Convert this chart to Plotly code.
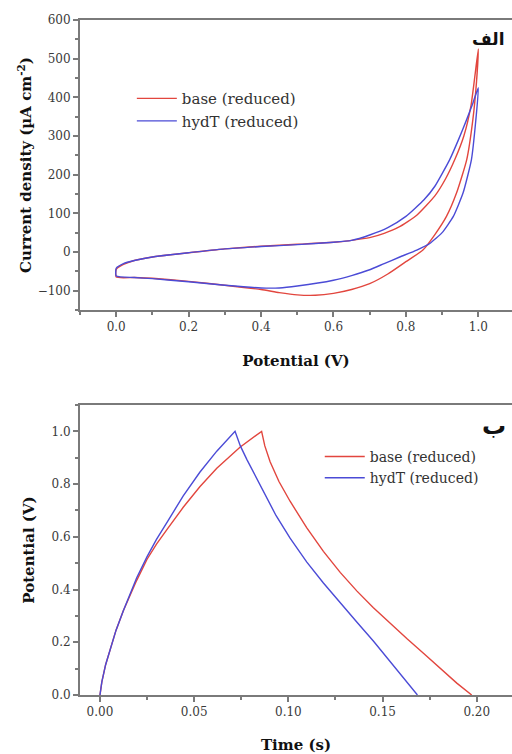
import plotly.graph_objects as go
from plotly.subplots import make_subplots

# Cyclic voltammetry (potential in V, current density in µA cm^-2)
cv_base_v = [0.0, 0.02, 0.05, 0.1, 0.15, 0.2, 0.3, 0.4, 0.5, 0.6, 0.65, 0.7, 0.74, 0.78,
             0.83, 0.88, 0.91, 0.935, 0.96, 0.98, 1.0,
             0.995, 0.985, 0.968, 0.94, 0.912, 0.88, 0.847, 0.8, 0.75, 0.7, 0.65, 0.6,
             0.55, 0.5, 0.45, 0.4, 0.3, 0.2, 0.1, 0.05, 0.0, 0.0]
cv_base_j = [-45, -32, -22, -13, -7, -2, 8, 15, 20, 25, 30, 37, 48, 64,
             95, 145, 190, 239, 300, 380, 525,
             440, 343, 239, 153, 92, 45, 5, -25, -57, -82, -97, -107,
             -112, -111, -105, -97, -86, -76, -68, -66, -65, -45]

cv_hydt_v = [0.0, 0.02, 0.05, 0.1, 0.15, 0.2, 0.3, 0.4, 0.5, 0.6, 0.65, 0.7, 0.75, 0.8,
             0.85, 0.88, 0.921, 0.945, 0.968, 0.985, 1.0,
             0.993, 0.981, 0.958, 0.931, 0.9, 0.866, 0.83, 0.783, 0.74, 0.7, 0.65, 0.6,
             0.5, 0.45, 0.4, 0.3, 0.2, 0.1, 0.05, 0.0, 0.0]
cv_hydt_j = [-42, -30, -22, -13, -7, -2, 8, 14, 19, 25, 30, 44, 63, 92,
             135, 170, 239, 290, 343, 385, 425,
             340, 239, 153, 92, 50, 22, 5, -13, -30, -46, -61, -73,
             -88, -93, -93, -86, -77, -69, -66, -62, -42]

# Galvanostatic charge/discharge (time in s, potential in V)
gcd_base_t = [0.0, 0.001, 0.003, 0.0053, 0.0085, 0.0124, 0.016, 0.0195, 0.025, 0.030,
              0.036, 0.0442, 0.053, 0.062, 0.0743, 0.0858,
              0.0875, 0.0903, 0.095, 0.1009, 0.1097, 0.1186, 0.1275, 0.1363, 0.145,
              0.154, 0.163, 0.1717, 0.1806, 0.1894, 0.1973]
gcd_base_v = [0.0, 0.05, 0.115, 0.17, 0.245, 0.32, 0.38, 0.435, 0.515, 0.572,
              0.632, 0.712, 0.79, 0.86, 0.94, 1.0,
              0.945, 0.885, 0.81, 0.735, 0.635, 0.545, 0.465, 0.395, 0.332,
              0.272, 0.213, 0.158, 0.10, 0.045, 0.0]

gcd_hydt_t = [0.0, 0.001, 0.003, 0.0053, 0.0085, 0.0124, 0.016, 0.0195, 0.025, 0.030,
              0.036, 0.0442, 0.053, 0.062, 0.0717,
              0.0745, 0.078, 0.0832, 0.0885, 0.0935, 0.1009, 0.1097, 0.1186, 0.1274,
              0.1363, 0.1451, 0.154, 0.1628, 0.1685]
gcd_hydt_v = [0.0, 0.05, 0.115, 0.17, 0.245, 0.32, 0.385, 0.445, 0.525, 0.59,
              0.66, 0.755, 0.845, 0.925, 1.0,
              0.945, 0.893, 0.82, 0.745, 0.68, 0.595, 0.505, 0.425, 0.350,
              0.277, 0.205, 0.128, 0.052, 0.0]

series_names = ["base (reduced)", "hydT (reduced)"]
panel_labels = ["الف", "ب"]

RED = "#e2463e"
BLUE = "#4b4bd6"
AXIS = "#7a7a7a"
SERIF = "DejaVu Serif"

fig = make_subplots(rows=2, cols=1, vertical_spacing=0.0)

cv_line = dict(width=1.4, shape="spline", smoothing=0.5)
gcd_line = dict(width=1.4, shape="linear")
fig.add_trace(go.Scatter(x=cv_base_v, y=cv_base_j, mode="lines", name=series_names[0],
                         line=dict(color=RED, **cv_line), legend="legend"), row=1, col=1)
fig.add_trace(go.Scatter(x=cv_hydt_v, y=cv_hydt_j, mode="lines", name=series_names[1],
                         line=dict(color=BLUE, **cv_line), legend="legend"), row=1, col=1)
fig.add_trace(go.Scatter(x=gcd_base_t, y=gcd_base_v, mode="lines", name=series_names[0],
                         line=dict(color=RED, **gcd_line), legend="legend2"), row=2, col=1)
fig.add_trace(go.Scatter(x=gcd_hydt_t, y=gcd_hydt_v, mode="lines", name=series_names[1],
                         line=dict(color=BLUE, **gcd_line), legend="legend2"), row=2, col=1)

tick_font = dict(family=SERIF, size=12, color="#3a3a3a")
title_font = dict(family=SERIF, size=15, color="#111111")

common = dict(showline=True, linecolor=AXIS, linewidth=2, ticks="outside", ticklen=5,
              tickwidth=1.5, tickcolor=AXIS, showgrid=False, zeroline=False,
              tickfont=tick_font, title_font=title_font,
              minor=dict(ticks="outside", ticklen=3, tickwidth=1.5, tickcolor=AXIS))

fig.update_xaxes(**common)
fig.update_yaxes(**common)

fig.update_layout(
    width=512, height=754,
    margin=dict(l=80, r=0, t=20, b=59),
    plot_bgcolor="white", paper_bgcolor="white",
    showlegend=True,
    xaxis=dict(domain=[0, 1], range=[-0.1, 1.093], dtick=0.2, tickformat=".1f",
               minor=dict(dtick=0.1), mirror=True, anchor="y",
               title=dict(text="<b>Potential (V)</b>", standoff=22)),
    yaxis=dict(domain=[0.5704, 1.0], range=[-150, 600], dtick=100,
               minor=dict(dtick=50), anchor="x",
               title=dict(text="<b>Current density (µA cm<sup>-2</sup>)</b>", standoff=2)),
    xaxis2=dict(domain=[0, 1], range=[-0.0106, 0.2187], dtick=0.05, tickformat=".2f",
                minor=dict(dtick=0.025), mirror=True, anchor="y2",
                title=dict(text="<b>Time (s)</b>", standoff=21)),
    yaxis2=dict(domain=[0.0, 0.4296], range=[0, 1.1], dtick=0.2, tickformat=".1f",
                minor=dict(dtick=0.1), anchor="x2",
                title=dict(text="<b>Potential (V)</b>", standoff=13)),
    legend=dict(x=0.12, y=0.908, xref="paper", yref="paper", xanchor="left", yanchor="top",
                bgcolor="rgba(0,0,0,0)", font=dict(family=SERIF, size=15, color="#333333"),
                tracegroupgap=0, itemwidth=40),
    legend2=dict(x=0.555, y=0.3764, xref="paper", yref="paper", xanchor="left", yanchor="top",
                 bgcolor="rgba(0,0,0,0)", font=dict(family=SERIF, size=14, color="#333333"),
                 tracegroupgap=0, itemwidth=40),
    annotations=[
        dict(text="<b>" + panel_labels[0] + "</b>", x=0.985, y=0.99, xref="paper", yref="paper",
             xanchor="right", yanchor="top", showarrow=False,
             font=dict(family="DejaVu Sans", size=17, color="#111111")),
        dict(text="<b>" + panel_labels[1] + "</b>", x=0.99, y=0.422, xref="paper", yref="paper",
             xanchor="right", yanchor="top", showarrow=False,
             font=dict(family="DejaVu Sans", size=24, color="#111111")),
    ],
)

fig.write_html("out.html")
